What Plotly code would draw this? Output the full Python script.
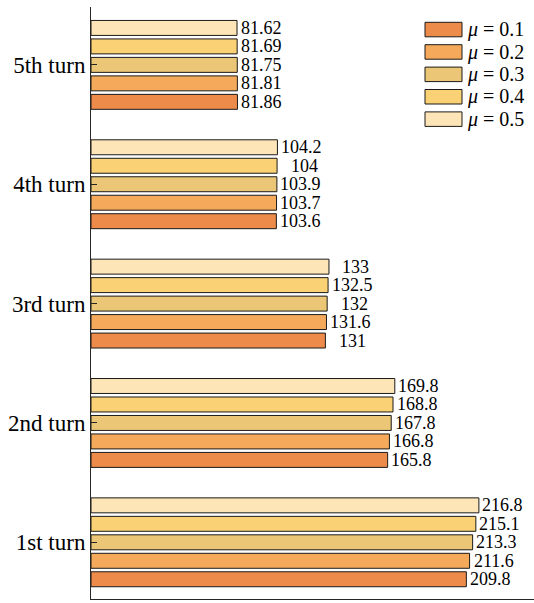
import plotly.graph_objects as go

# Turns (bottom to top) and friction coefficients
turns = ["1st turn", "2nd turn", "3rd turn", "4th turn", "5th turn"]
mu_values = [0.1, 0.2, 0.3, 0.4, 0.5]
colors = ["#ED8B4A", "#F5AA5B", "#EBC676", "#FAD175", "#FDE5B7"]

# Values per turn for each mu
vals_mu01 = [209.8, 165.8, 131, 103.6, 81.86]
vals_mu02 = [211.6, 166.8, 131.6, 103.7, 81.81]
vals_mu03 = [213.3, 167.8, 132, 103.9, 81.75]
vals_mu04 = [215.1, 168.8, 132.5, 104, 81.69]
vals_mu05 = [216.8, 169.8, 133, 104.2, 81.62]
series = [vals_mu01, vals_mu02, vals_mu03, vals_mu04, vals_mu05]

W, H = 534, 603
ML, MR, MT, MB = 91, 0, 7, 4
BARGAP = 0.226
n = len(series)

fig = go.Figure()
for mu, col, vals in zip(mu_values, colors, series):
    fig.add_trace(go.Bar(
        y=turns, x=vals, orientation="h", name=f"μ = {mu}",
        marker=dict(color=col, line=dict(color="#1a1a1a", width=1)),
        showlegend=False,
    ))

# value labels centred just past the end of each bar
annotations = []
slot = (1 - BARGAP) / n
for i, vals in enumerate(series):
    off = (i - (n - 1) / 2) * slot
    for j, v in enumerate(vals):
        txt = f"{v:g}"
        annotations.append(dict(
            x=v, y=j + off, xref="x", yref="y", text=txt, showarrow=False,
            xanchor="center", yanchor="middle",
            xshift=27 if float(v).is_integer() else 24,
            font=dict(family="Liberation Serif", size=18, color="#000000"),
        ))

# legend drawn as boxes + labels (pixel positions converted to paper coords)
pw, ph = W - ML - MR, H - MT - MB
def px_x(p):
    return (p - ML) / pw
def px_y(p):
    return 1 - (p - MT) / ph

shapes = []
for k, (mu, col) in enumerate(zip(mu_values, colors)):
    top = 22.3 + 22.4 * k
    shapes.append(dict(
        type="rect", xref="paper", yref="paper",
        x0=px_x(425), x1=px_x(462), y0=px_y(top + 14.5), y1=px_y(top),
        fillcolor=col, line=dict(color="#1a1a1a", width=1),
    ))
    annotations.append(dict(
        x=px_x(465), y=px_y(top + 7.5), xref="paper", yref="paper",
        text=f"<i>μ</i> = {mu}", showarrow=False,
        xanchor="left", yanchor="middle",
        font=dict(family="Liberation Serif", size=20, color="#000000"),
    ))

fig.update_layout(
    width=W, height=H,
    margin=dict(l=ML, r=MR, t=MT, b=MB, pad=0),
    paper_bgcolor="white", plot_bgcolor="white",
    barmode="group", bargap=BARGAP, bargroupgap=0.19,
    annotations=annotations, shapes=shapes,
    showlegend=False,
)
fig.update_xaxes(
    range=[0, 247.6], showgrid=False, zeroline=False,
    showticklabels=False, ticks="",
    showline=True, linecolor="#262626", linewidth=1,
)
fig.update_yaxes(
    range=[-0.475, 4.485], showgrid=False, zeroline=False,
    showline=True, linecolor="#262626", linewidth=1,
    ticks="inside", ticklen=6, tickcolor="#262626",
    tickfont=dict(family="Liberation Serif", size=23, color="#000000"),
)

fig.write_html("out.html")
